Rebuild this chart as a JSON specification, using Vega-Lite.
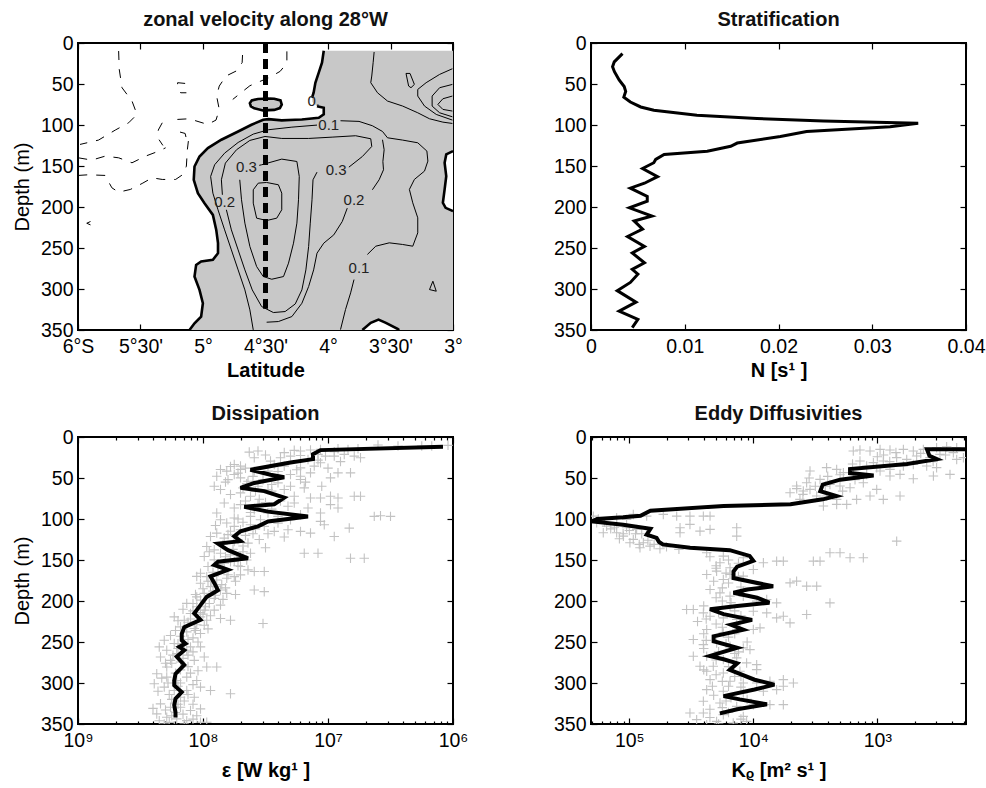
{
"$schema":"https://vega.github.io/schema/vega-lite/v6.json",
"background":"white",
"padding":{"left":11,"top":9,"right":0,"bottom":0},
"config":{
 "font":"Liberation Sans",
 "view":{"stroke":"#000","strokeWidth":2},
 "axis":{"domain":false,"grid":false,"tickColor":"#000","tickSize":-6,"tickWidth":1.2,"labelFontSize":19.5,"labelColor":"#000","labelFont":"Liberation Sans","titleFont":"Liberation Sans","titleFontSize":20,"titleColor":"#000","labelPadding":13,"labelFlush":false,"labelOverlap":false},
 "title":{"font":"Liberation Sans","fontSize":20,"fontWeight":"bold","color":"#111","offset":3}
},
"datasets":{
 "grey":[{"d":9.4,"lat":4.034},{"d":24,"lat":4.048},{"d":36.2,"lat":4.074},{"d":48.5,"lat":4.101},{"d":60.7,"lat":4.115},{"d":66.8,"lat":4.128},{"d":72,"lat":4.125},{"d":77,"lat":4.088},{"d":79,"lat":4.034},{"d":87,"lat":4.034},{"d":91.2,"lat":4.074},{"d":92.5,"lat":4.209},{"d":93.0,"lat":4.37},{"d":93.6,"lat":4.518},{"d":99.7,"lat":4.612},{"d":107.9,"lat":4.719},{"d":118,"lat":4.853},{"d":128.2,"lat":4.961},{"d":138.4,"lat":5.028},{"d":150.6,"lat":5.068},{"d":166.8,"lat":5.074},{"d":183.1,"lat":5.041},{"d":195.3,"lat":4.988},{"d":209.6,"lat":4.921},{"d":227.9,"lat":4.894},{"d":244.1,"lat":4.88},{"d":256.3,"lat":4.88},{"d":264.5,"lat":4.921},{"d":266.5,"lat":5.015},{"d":270.6,"lat":5.055},{"d":284.8,"lat":5.068},{"d":301.1,"lat":5.028},{"d":317.4,"lat":5.001},{"d":333.6,"lat":5.015},{"d":341.8,"lat":5.068},{"d":350,"lat":5.108}],
 "patch":[
  {"p":"ell","d":67.8,"lo":4.53,"hi":4.43},{"p":"ell","d":69.2,"lo":4.6,"hi":4.4},{"p":"ell","d":73.3,"lo":4.625,"hi":4.37},{"p":"ell","d":77.3,"lo":4.617,"hi":4.37},{"p":"ell","d":79.4,"lo":4.59,"hi":4.39},{"p":"ell","d":81.4,"lo":4.57,"hi":4.43},{"p":"ell","d":82.2,"lo":4.52,"hi":4.47},
  {"p":"hr","d":131.8,"lo":3.005,"hi":3.0},{"p":"hr","d":135.9,"lo":3.054,"hi":3.0},{"p":"hr","d":146.1,"lo":3.067,"hi":3.0},{"p":"hr","d":162.4,"lo":3.054,"hi":3.0},{"p":"hr","d":178.6,"lo":3.067,"hi":3.0},{"p":"hr","d":194.9,"lo":3.081,"hi":3.0},{"p":"hr","d":201.0,"lo":3.059,"hi":3.0},{"p":"hr","d":205.1,"lo":3.005,"hi":3.0},
  {"p":"hb","d":337.3,"lo":3.6,"hi":3.59},{"p":"hb","d":341.3,"lo":3.658,"hi":3.537},{"p":"hb","d":348.7,"lo":3.71,"hi":3.443},{"p":"hb","d":350,"lo":3.725,"hi":3.43}],
 "cont":[
  {"id":"b0a","t":"thick","lat":4.034,"d":9.4},{"id":"b0a","t":"thick","lat":4.048,"d":24},{"id":"b0a","t":"thick","lat":4.074,"d":36.2},{"id":"b0a","t":"thick","lat":4.101,"d":48.5},{"id":"b0a","t":"thick","lat":4.115,"d":60.7},{"id":"b0a","t":"thick","lat":4.128,"d":66.8},
  {"id":"b0b","t":"thick","lat":4.088,"d":77},{"id":"b0b","t":"thick","lat":4.034,"d":79},{"id":"b0b","t":"thick","lat":4.034,"d":87},{"id":"b0b","t":"thick","lat":4.074,"d":91.2},{"id":"b0b","t":"thick","lat":4.209,"d":93.2},{"id":"b0b","t":"thick","lat":4.262,"d":93.6},{"id":"b0b","t":"thick","lat":4.37,"d":94.4},{"id":"b0b","t":"thick","lat":4.477,"d":92.8},{"id":"b0b","t":"thick","lat":4.518,"d":93.6},{"id":"b0b","t":"thick","lat":4.612,"d":99.7},{"id":"b0b","t":"thick","lat":4.719,"d":107.9},{"id":"b0b","t":"thick","lat":4.853,"d":118},{"id":"b0b","t":"thick","lat":4.961,"d":128.2},{"id":"b0b","t":"thick","lat":5.028,"d":138.4},{"id":"b0b","t":"thick","lat":5.068,"d":150.6},{"id":"b0b","t":"thick","lat":5.074,"d":166.8},{"id":"b0b","t":"thick","lat":5.041,"d":183.1},{"id":"b0b","t":"thick","lat":4.988,"d":195.3},{"id":"b0b","t":"thick","lat":4.921,"d":209.6},{"id":"b0b","t":"thick","lat":4.894,"d":227.9},{"id":"b0b","t":"thick","lat":4.88,"d":244.1},{"id":"b0b","t":"thick","lat":4.88,"d":256.3},{"id":"b0b","t":"thick","lat":4.921,"d":264.5},{"id":"b0b","t":"thick","lat":5.015,"d":266.5},{"id":"b0b","t":"thick","lat":5.055,"d":270.6},{"id":"b0b","t":"thick","lat":5.068,"d":284.8},{"id":"b0b","t":"thick","lat":5.028,"d":301.1},{"id":"b0b","t":"thick","lat":5.001,"d":317.4},{"id":"b0b","t":"thick","lat":5.015,"d":333.6},{"id":"b0b","t":"thick","lat":5.068,"d":341.8},{"id":"b0b","t":"thick","lat":5.108,"d":350},
  {"id":"be","t":"thick","lat":4.47,"d":67.6},{"id":"be","t":"thick","lat":4.56,"d":68.2},{"id":"be","t":"thick","lat":4.61,"d":70},{"id":"be","t":"thick","lat":4.625,"d":73.3},{"id":"be","t":"thick","lat":4.617,"d":77.3},{"id":"be","t":"thick","lat":4.59,"d":79.6},{"id":"be","t":"thick","lat":4.52,"d":82.2},{"id":"be","t":"thick","lat":4.43,"d":81.6},{"id":"be","t":"thick","lat":4.385,"d":79.4},{"id":"be","t":"thick","lat":4.37,"d":75},{"id":"be","t":"thick","lat":4.38,"d":70},{"id":"be","t":"thick","lat":4.43,"d":68},{"id":"be","t":"thick","lat":4.47,"d":67.6},
  {"id":"bh","t":"thick","lat":3.0,"d":131.8},{"id":"bh","t":"thick","lat":3.054,"d":135.9},{"id":"bh","t":"thick","lat":3.067,"d":146.1},{"id":"bh","t":"thick","lat":3.054,"d":162.4},{"id":"bh","t":"thick","lat":3.067,"d":178.6},{"id":"bh","t":"thick","lat":3.081,"d":194.9},{"id":"bh","t":"thick","lat":3.059,"d":201.0},{"id":"bh","t":"thick","lat":3.0,"d":205.1},
  {"id":"bb","t":"thick","lat":3.725,"d":350},{"id":"bb","t":"thick","lat":3.658,"d":341.3},{"id":"bb","t":"thick","lat":3.596,"d":337.3},{"id":"bb","t":"thick","lat":3.537,"d":341.3},{"id":"bb","t":"thick","lat":3.443,"d":348.7},{"id":"bb","t":"thick","lat":3.43,"d":350},
  {"id":"a1","t":"thin","lat":4.598,"d":349.9},{"id":"a1","t":"thin","lat":4.625,"d":325.5},{"id":"a1","t":"thin","lat":4.665,"d":301.1},{"id":"a1","t":"thin","lat":4.719,"d":276.7},{"id":"a1","t":"thin","lat":4.773,"d":252.3},{"id":"a1","t":"thin","lat":4.827,"d":227.9},{"id":"a1","t":"thin","lat":4.88,"d":203.4},{"id":"a1","t":"thin","lat":4.921,"d":183.1},{"id":"a1","t":"thin","lat":4.939,"d":162.8},{"id":"a1","t":"thin","lat":4.907,"d":148.5},{"id":"a1","t":"thin","lat":4.827,"d":134.3},{"id":"a1","t":"thin","lat":4.719,"d":121.3},{"id":"a1","t":"thin","lat":4.598,"d":111.1},{"id":"a1","t":"thin","lat":4.477,"d":105.8},{"id":"a1","t":"thin","lat":4.289,"d":102.6},{"id":"a1","t":"thin","lat":4.088,"d":100.1},
  {"id":"a2","t":"thin","lat":3.9,"d":94.8},{"id":"a2","t":"thin","lat":3.752,"d":95.6},{"id":"a2","t":"thin","lat":3.645,"d":100.9},{"id":"a2","t":"thin","lat":3.564,"d":107.9},{"id":"a2","t":"thin","lat":3.524,"d":115.6},{"id":"a2","t":"thin","lat":3.403,"d":118.4},{"id":"a2","t":"thin","lat":3.282,"d":121.7},{"id":"a2","t":"thin","lat":3.209,"d":131.8},{"id":"a2","t":"thin","lat":3.201,"d":144},{"id":"a2","t":"thin","lat":3.228,"d":156.2},{"id":"a2","t":"thin","lat":3.309,"d":166.4},{"id":"a2","t":"thin","lat":3.349,"d":178.6},{"id":"a2","t":"thin","lat":3.322,"d":194.9},{"id":"a2","t":"thin","lat":3.282,"d":213.2},{"id":"a2","t":"thin","lat":3.282,"d":231.5},{"id":"a2","t":"thin","lat":3.322,"d":247.8},{"id":"a2","t":"thin","lat":3.403,"d":245.7},{"id":"a2","t":"thin","lat":3.51,"d":243.7},{"id":"a2","t":"thin","lat":3.618,"d":247.8},{"id":"a2","t":"thin","lat":3.685,"d":257.9},
  {"id":"a3","t":"thin","lat":3.792,"d":288.5},{"id":"a3","t":"thin","lat":3.819,"d":304.7},{"id":"a3","t":"thin","lat":3.86,"d":325.1},{"id":"a3","t":"thin","lat":3.9,"d":349.5},
  {"id":"c2a","t":"thin","lat":4.813,"d":203.4},{"id":"c2a","t":"thin","lat":4.773,"d":227.9},{"id":"c2a","t":"thin","lat":4.719,"d":252.3},{"id":"c2a","t":"thin","lat":4.665,"d":276.7},{"id":"c2a","t":"thin","lat":4.606,"d":301.1},{"id":"c2a","t":"thin","lat":4.531,"d":321.4},{"id":"c2a","t":"thin","lat":4.437,"d":328.7},{"id":"c2a","t":"thin","lat":4.343,"d":327.5},{"id":"c2a","t":"thin","lat":4.262,"d":318.2},{"id":"c2a","t":"thin","lat":4.209,"d":301.1},{"id":"c2a","t":"thin","lat":4.177,"d":276.7},{"id":"c2a","t":"thin","lat":4.155,"d":248.2},{"id":"c2a","t":"thin","lat":4.142,"d":219.7},{"id":"c2a","t":"thin","lat":4.128,"d":191.2},{"id":"c2a","t":"thin","lat":4.12,"d":166.8},{"id":"c2a","t":"thin","lat":4.088,"d":157.5},
  {"id":"c2b","t":"thin","lat":3.833,"d":151.4},{"id":"c2b","t":"thin","lat":3.725,"d":138.4},{"id":"c2b","t":"thin","lat":3.65,"d":126.2},{"id":"c2b","t":"thin","lat":3.658,"d":116.8},{"id":"c2b","t":"thin","lat":3.779,"d":113.1},{"id":"c2b","t":"thin","lat":3.967,"d":114.8},{"id":"c2b","t":"thin","lat":4.155,"d":116.4},{"id":"c2b","t":"thin","lat":4.37,"d":116.4},{"id":"c2b","t":"thin","lat":4.504,"d":114},{"id":"c2b","t":"thin","lat":4.625,"d":118.8},{"id":"c2b","t":"thin","lat":4.732,"d":130.2},{"id":"c2b","t":"thin","lat":4.821,"d":146.5},{"id":"c2b","t":"thin","lat":4.853,"d":166.8},{"id":"c2b","t":"thin","lat":4.845,"d":185.1},
  {"id":"c3a","t":"thin","lat":3.564,"d":118},{"id":"c3a","t":"thin","lat":3.551,"d":130.2},{"id":"c3a","t":"thin","lat":3.561,"d":144.5},{"id":"c3a","t":"thin","lat":3.556,"d":154.6},{"id":"c3a","t":"thin","lat":3.591,"d":166.8},{"id":"c3a","t":"thin","lat":3.645,"d":179},
  {"id":"c3b","t":"thin","lat":3.846,"d":201.4},{"id":"c3b","t":"thin","lat":3.886,"d":217.7},{"id":"c3b","t":"thin","lat":3.954,"d":234},{"id":"c3b","t":"thin","lat":4.034,"d":244.1},{"id":"c3b","t":"thin","lat":4.088,"d":256.3},{"id":"c3b","t":"thin","lat":4.115,"d":276.7},{"id":"c3b","t":"thin","lat":4.155,"d":297},{"id":"c3b","t":"thin","lat":4.209,"d":317.4},{"id":"c3b","t":"thin","lat":4.289,"d":333.6},{"id":"c3b","t":"thin","lat":4.397,"d":339.7},{"id":"c3b","t":"thin","lat":4.491,"d":340.5},
  {"id":"c4","t":"thin","lat":4.55,"d":149.2},{"id":"c4","t":"thin","lat":4.531,"d":148.5},{"id":"c4","t":"thin","lat":4.37,"d":141.6},{"id":"c4","t":"thin","lat":4.249,"d":144.5},{"id":"c4","t":"thin","lat":4.23,"d":162.8},{"id":"c4","t":"thin","lat":4.236,"d":191.2},{"id":"c4","t":"thin","lat":4.249,"d":219.7},{"id":"c4","t":"thin","lat":4.276,"d":244.1},{"id":"c4","t":"thin","lat":4.316,"d":268.5},{"id":"c4","t":"thin","lat":4.356,"d":284.8},{"id":"c4","t":"thin","lat":4.45,"d":288.1},{"id":"c4","t":"thin","lat":4.518,"d":284.8},{"id":"c4","t":"thin","lat":4.571,"d":272.6},{"id":"c4","t":"thin","lat":4.625,"d":248.2},{"id":"c4","t":"thin","lat":4.665,"d":219.7},{"id":"c4","t":"thin","lat":4.692,"d":191.2},{"id":"c4","t":"thin","lat":4.706,"d":166.8},
  {"id":"c5","t":"thin","lat":4.491,"d":170.1},{"id":"c5","t":"thin","lat":4.397,"d":172.9},{"id":"c5","t":"thin","lat":4.37,"d":183.1},{"id":"c5","t":"thin","lat":4.37,"d":203.4},{"id":"c5","t":"thin","lat":4.41,"d":213.6},{"id":"c5","t":"thin","lat":4.491,"d":216.5},{"id":"c5","t":"thin","lat":4.571,"d":213.6},{"id":"c5","t":"thin","lat":4.598,"d":195.3},{"id":"c5","t":"thin","lat":4.598,"d":179},{"id":"c5","t":"thin","lat":4.558,"d":170.9},{"id":"c5","t":"thin","lat":4.491,"d":170.1},
  {"id":"r1","t":"thin","lat":3.631,"d":11},{"id":"r1","t":"thin","lat":3.639,"d":24},{"id":"r1","t":"thin","lat":3.65,"d":40.3},{"id":"r1","t":"thin","lat":3.658,"d":48.4},{"id":"r1","t":"thin","lat":3.604,"d":60.7},{"id":"r1","t":"thin","lat":3.524,"d":70.8},{"id":"r1","t":"thin","lat":3.403,"d":76.9},{"id":"r1","t":"thin","lat":3.282,"d":85.1},{"id":"r1","t":"thin","lat":3.188,"d":92.4},{"id":"r1","t":"thin","lat":3.081,"d":96.5},{"id":"r1","t":"thin","lat":3.005,"d":98.1},
  {"id":"r2","t":"thin","lat":3.005,"d":31.4},{"id":"r2","t":"thin","lat":3.107,"d":38.3},{"id":"r2","t":"thin","lat":3.215,"d":48.4},{"id":"r2","t":"thin","lat":3.282,"d":56.6},{"id":"r2","t":"thin","lat":3.282,"d":64.7},{"id":"r2","t":"thin","lat":3.228,"d":76.9},{"id":"r2","t":"thin","lat":3.134,"d":87.1},{"id":"r2","t":"thin","lat":3.005,"d":94},
  {"id":"r3","t":"thin","lat":3.005,"d":50.5},{"id":"r3","t":"thin","lat":3.107,"d":54.5},{"id":"r3","t":"thin","lat":3.167,"d":64.7},{"id":"r3","t":"thin","lat":3.167,"d":76.9},{"id":"r3","t":"thin","lat":3.107,"d":85.1},{"id":"r3","t":"thin","lat":3.005,"d":90},
  {"id":"r4","t":"thin","lat":3.005,"d":64.7},{"id":"r4","t":"thin","lat":3.081,"d":68},{"id":"r4","t":"thin","lat":3.121,"d":74.9},{"id":"r4","t":"thin","lat":3.081,"d":81},{"id":"r4","t":"thin","lat":3.005,"d":83},
  {"id":"dm","t":"thin","lat":3.376,"d":37.1},{"id":"dm","t":"thin","lat":3.344,"d":37.1},{"id":"dm","t":"thin","lat":3.309,"d":50.5},{"id":"dm","t":"thin","lat":3.336,"d":54.5},{"id":"dm","t":"thin","lat":3.355,"d":52.5},{"id":"dm","t":"thin","lat":3.376,"d":37.1},
  {"id":"tr","t":"thin","lat":3.161,"d":290.5},{"id":"tr","t":"thin","lat":3.134,"d":302.7},{"id":"tr","t":"thin","lat":3.188,"d":300.7},{"id":"tr","t":"thin","lat":3.161,"d":290.5},
  {"id":"lt","t":"thin","lat":5.9,"d":217.7},{"id":"lt","t":"thin","lat":5.93,"d":219.8},{"id":"lt","t":"thin","lat":5.9,"d":221.8},
  {"id":"n1","t":"dash","lat":5.675,"d":9.8},{"id":"n1","t":"dash","lat":5.67,"d":32.2},{"id":"n1","t":"dash","lat":5.648,"d":54.5},{"id":"n1","t":"dash","lat":5.568,"d":70.8},{"id":"n1","t":"dash","lat":5.528,"d":87.1},{"id":"n1","t":"dash","lat":5.595,"d":97.3},{"id":"n1","t":"dash","lat":5.702,"d":106.2},{"id":"n1","t":"dash","lat":5.836,"d":118.4},{"id":"n1","t":"dash","lat":5.984,"d":123.7},
  {"id":"n2","t":"dash","lat":5.998,"d":140},{"id":"n2","t":"dash","lat":5.89,"d":142.8},{"id":"n2","t":"dash","lat":5.783,"d":138},{"id":"n2","t":"dash","lat":5.675,"d":140},{"id":"n2","t":"dash","lat":5.568,"d":146.1},{"id":"n2","t":"dash","lat":5.46,"d":138},{"id":"n2","t":"dash","lat":5.353,"d":131.8},{"id":"n2","t":"dash","lat":5.299,"d":127.8},
  {"id":"n3","t":"dash","lat":5.998,"d":161.5},{"id":"n3","t":"dash","lat":5.917,"d":160.7},{"id":"n3","t":"dash","lat":5.783,"d":161.5},{"id":"n3","t":"dash","lat":5.729,"d":176.6},{"id":"n3","t":"dash","lat":5.675,"d":181.9},{"id":"n3","t":"dash","lat":5.581,"d":178.6},{"id":"n3","t":"dash","lat":5.487,"d":171.3},{"id":"n3","t":"dash","lat":5.407,"d":164.4},{"id":"n3","t":"dash","lat":5.326,"d":166.4},{"id":"n3","t":"dash","lat":5.219,"d":166.4},{"id":"n3","t":"dash","lat":5.16,"d":160.3},{"id":"n3","t":"dash","lat":5.133,"d":150.2},{"id":"n3","t":"dash","lat":5.125,"d":129.8},{"id":"n3","t":"dash","lat":5.117,"d":119.6},
  {"id":"n4","t":"dash","lat":5.326,"d":97.3},{"id":"n4","t":"dash","lat":5.358,"d":106.2},{"id":"n4","t":"dash","lat":5.353,"d":117.6},{"id":"n4","t":"dash","lat":5.321,"d":124.9},
  {"id":"n5","t":"dash","lat":5.205,"d":93.2},{"id":"n5","t":"dash","lat":5.111,"d":92.4},{"id":"n5","t":"dash","lat":4.963,"d":99.3},{"id":"n5","t":"dash","lat":4.896,"d":94},{"id":"n5","t":"dash","lat":4.87,"d":81},{"id":"n5","t":"dash","lat":4.891,"d":64.7},{"id":"n5","t":"dash","lat":4.87,"d":52.5},{"id":"n5","t":"dash","lat":4.816,"d":40.3},{"id":"n5","t":"dash","lat":4.735,"d":34.2},{"id":"n5","t":"dash","lat":4.687,"d":24},{"id":"n5","t":"dash","lat":4.682,"d":9.8},
  {"id":"n6","t":"dash","lat":4.329,"d":10.2},{"id":"n6","t":"dash","lat":4.329,"d":24.4},{"id":"n6","t":"dash","lat":4.383,"d":34.6},{"id":"n6","t":"dash","lat":4.477,"d":42.7},{"id":"n6","t":"dash","lat":4.544,"d":46.8},{"id":"n6","t":"dash","lat":4.625,"d":52.1},{"id":"n6","t":"dash","lat":4.692,"d":60.2},{"id":"n6","t":"dash","lat":4.762,"d":68.8},
  {"id":"n7","t":"dash","lat":5.143,"d":49.3},{"id":"n7","t":"dash","lat":5.203,"d":48.4},{"id":"n7","t":"dash","lat":5.205,"d":56.6},{"id":"n7","t":"dash","lat":5.178,"d":60.7},{"id":"n7","t":"dash","lat":5.133,"d":60.7},
  {"id":"n8","t":"dash","lat":5.184,"d":108.6},{"id":"n8","t":"dash","lat":5.143,"d":110.3},{"id":"n8","t":"dash","lat":5.133,"d":116.8}],
 "labels":[{"t":"0.","lat":4.115,"d":71},{"t":"0.1","lat":3.994,"d":99.7},{"t":"0.3","lat":4.652,"d":151.4},{"t":"0.3","lat":3.935,"d":154.6},{"t":"0.2","lat":4.827,"d":193.3},{"t":"0.2","lat":3.792,"d":191.2},{"t":"0.1","lat":3.752,"d":274.2}],
 "center":[{"lat":4.5,"d0":0,"d1":324}],
 "strat":[{"N":0.00336,"d":13},{"N":0.00248,"d":23},{"N":0.0023,"d":29},{"N":0.0025,"d":35},{"N":0.003,"d":45},{"N":0.00354,"d":53},{"N":0.0037,"d":59},{"N":0.0035,"d":66},{"N":0.0042,"d":72},{"N":0.0053,"d":78},{"N":0.0067,"d":82},{"N":0.0113,"d":88},{"N":0.0177,"d":92},{"N":0.0248,"d":95},{"N":0.0349,"d":98},{"N":0.0319,"d":102},{"N":0.023,"d":108},{"N":0.0202,"d":114},{"N":0.0156,"d":122},{"N":0.0149,"d":126},{"N":0.0124,"d":132},{"N":0.0078,"d":136},{"N":0.0069,"d":142},{"N":0.0067,"d":146},{"N":0.0055,"d":153},{"N":0.0071,"d":163},{"N":0.0057,"d":171},{"N":0.0042,"d":177},{"N":0.006,"d":187},{"N":0.006,"d":193},{"N":0.0041,"d":201},{"N":0.0065,"d":211},{"N":0.0046,"d":217},{"N":0.0055,"d":227},{"N":0.0039,"d":236},{"N":0.0057,"d":248},{"N":0.0044,"d":256},{"N":0.0057,"d":268},{"N":0.0044,"d":276},{"N":0.005,"d":282},{"N":0.0042,"d":292},{"N":0.0028,"d":302},{"N":0.0048,"d":316},{"N":0.003,"d":327},{"N":0.005,"d":337},{"N":0.0044,"d":347}],
 "dline":[{"e":-6.08,"d":11.8},{"e":-7.06,"d":16},{"e":-7.12,"d":21},{"e":-7.12,"d":27},{"e":-7.3,"d":31},{"e":-7.62,"d":40},{"e":-7.46,"d":46},{"e":-7.35,"d":49},{"e":-7.59,"d":56},{"e":-7.7,"d":62},{"e":-7.51,"d":66},{"e":-7.35,"d":74},{"e":-7.43,"d":82},{"e":-7.67,"d":85},{"e":-7.48,"d":91},{"e":-7.16,"d":97},{"e":-7.48,"d":103},{"e":-7.56,"d":109},{"e":-7.7,"d":115},{"e":-7.75,"d":121},{"e":-7.7,"d":127},{"e":-7.88,"d":130},{"e":-7.8,"d":138},{"e":-7.64,"d":148},{"e":-7.88,"d":152},{"e":-7.91,"d":156},{"e":-7.8,"d":162},{"e":-7.94,"d":170},{"e":-7.91,"d":178},{"e":-7.88,"d":187},{"e":-7.97,"d":195},{"e":-8.02,"d":205},{"e":-8.07,"d":215},{"e":-8.02,"d":223},{"e":-8.15,"d":232},{"e":-8.17,"d":240},{"e":-8.17,"d":248},{"e":-8.14,"d":252},{"e":-8.19,"d":256},{"e":-8.15,"d":260},{"e":-8.21,"d":268},{"e":-8.15,"d":278},{"e":-8.22,"d":289},{"e":-8.23,"d":297},{"e":-8.23,"d":303},{"e":-8.17,"d":311},{"e":-8.22,"d":319},{"e":-8.23,"d":327},{"e":-8.22,"d":336},{"e":-8.22,"d":342}],
 "dpts":[{"e":-6.6,"d":9.8},{"e":-6.44,"d":11},{"e":-6.25,"d":11},{"e":-6.17,"d":11},{"e":-6.04,"d":10.2},{"e":-6.92,"d":14.3},{"e":-6.84,"d":15.1},{"e":-6.76,"d":14.3},{"e":-7.27,"d":16.3},{"e":-7.22,"d":17.1},{"e":-7.14,"d":15.9},{"e":-7.06,"d":15.1},{"e":-7.56,"d":17.1},{"e":-7.63,"d":18.4},{"e":-7.3,"d":23.3},{"e":-7.22,"d":22.5},{"e":-7.08,"d":21.2},{"e":-7.02,"d":23.3},{"e":-6.95,"d":23.3},{"e":-6.87,"d":21.2},{"e":-6.79,"d":23.3},{"e":-6.74,"d":25.3},{"e":-7.16,"d":27.4},{"e":-7.08,"d":28.2},{"e":-7.06,"d":31.4},{"e":-7.38,"d":25.3},{"e":-7.46,"d":29.4},{"e":-7.59,"d":25.3},{"e":-7.75,"d":33.5},{"e":-7.7,"d":35.5},{"e":-7.86,"d":39.6},{"e":-7.81,"d":41.6},{"e":-7.7,"d":39.6},{"e":-7.43,"d":33.5},{"e":-7.35,"d":35.5},{"e":-7.22,"d":37.6},{"e":-7.11,"d":35.5},{"e":-7.48,"d":41.6},{"e":-7.59,"d":41.6},{"e":-7.3,"d":45.7},{"e":-7.22,"d":47.8},{"e":-7.14,"d":43.7},{"e":-6.92,"d":43.7},{"e":-6.98,"d":49.8},{"e":-6.82,"d":43.7},{"e":-7.89,"d":47.8},{"e":-7.75,"d":45.7},{"e":-7.7,"d":49.8},{"e":-7.64,"d":53.9},{"e":-7.56,"d":60},{"e":-7.48,"d":64.1},{"e":-7.4,"d":55.9},{"e":-7.35,"d":64.1},{"e":-7.3,"d":60},{"e":-7.22,"d":51.9},{"e":-7.19,"d":62.1},{"e":-7.91,"d":60},{"e":-7.86,"d":64.1},{"e":-7.78,"d":70.2},{"e":-7.7,"d":68.2},{"e":-7.62,"d":72.3},{"e":-7.27,"d":72.3},{"e":-7.14,"d":74.3},{"e":-7.06,"d":74.3},{"e":-6.98,"d":72.3},{"e":-6.92,"d":74.3},{"e":-6.79,"d":72.3},{"e":-6.74,"d":72.3},{"e":-7.83,"d":80.4},{"e":-7.75,"d":86.6},{"e":-7.89,"d":92.7},{"e":-7.7,"d":82.5},{"e":-7.59,"d":88.6},{"e":-7.48,"d":92.7},{"e":-7.4,"d":96.8},{"e":-7.32,"d":84.5},{"e":-7.27,"d":80.4},{"e":-7.16,"d":86.6},{"e":-7.06,"d":92.7},{"e":-6.98,"d":82.5},{"e":-6.92,"d":86.6},{"e":-6.63,"d":96.8},{"e":-6.58,"d":96},{"e":-6.5,"d":96.8},{"e":-7.06,"d":102.9},{"e":-7.22,"d":94.7},{"e":-7.3,"d":100.9},{"e":-7.54,"d":100.9},{"e":-7.62,"d":96.8},{"e":-7.75,"d":98.8},{"e":-7.86,"d":100.9},{"e":-7.81,"d":104.9},{"e":-7.75,"d":109},{"e":-7.7,"d":113.1},{"e":-7.62,"d":107},{"e":-7.51,"d":109},{"e":-7.43,"d":115.1},{"e":-7.32,"d":113.1},{"e":-7.22,"d":115.1},{"e":-7.14,"d":117.2},{"e":-7.03,"d":107},{"e":-6.83,"d":111.1},{"e":-6.95,"d":121.3},{"e":-7.89,"d":117.2},{"e":-7.83,"d":123.3},{"e":-7.75,"d":127.4},{"e":-7.64,"d":129.4},{"e":-7.94,"d":121.3},{"e":-7.97,"d":133.5},{"e":-7.91,"d":137.6},{"e":-7.86,"d":141.7},{"e":-7.78,"d":143.7},{"e":-7.7,"d":145.8},{"e":-7.62,"d":141.7},{"e":-7.91,"d":149.9},{"e":-7.99,"d":145.8},{"e":-7.83,"d":153.9},{"e":-7.75,"d":151.9},{"e":-7.64,"d":162.1},{"e":-7.59,"d":164.1},{"e":-7.51,"d":164.1},{"e":-7.19,"d":141.7},{"e":-7.08,"d":141.7},{"e":-6.82,"d":147.8},{"e":-6.71,"d":147.8},{"e":-8.02,"d":166.2},{"e":-7.97,"d":170.3},{"e":-7.89,"d":174.4},{"e":-7.81,"d":172.3},{"e":-7.75,"d":170.3},{"e":-7.7,"d":168.2},{"e":-8.02,"d":178.4},{"e":-7.94,"d":182.5},{"e":-7.86,"d":186.6},{"e":-7.81,"d":190.7},{"e":-7.99,"d":190.7},{"e":-7.59,"d":186.6},{"e":-7.51,"d":188.6},{"e":-7.91,"d":196.8},{"e":-8.02,"d":198.9},{"e":-8.13,"d":202.9},{"e":-8.05,"d":207},{"e":-7.99,"d":211.1},{"e":-7.91,"d":211.1},{"e":-8.1,"d":215.2},{"e":-8.02,"d":219.3},{"e":-8.23,"d":219.3},{"e":-8.15,"d":223.4},{"e":-7.97,"d":223.4},{"e":-7.86,"d":221.3},{"e":-7.78,"d":223.4},{"e":-8.18,"d":231.5},{"e":-8.07,"d":233.6},{"e":-7.99,"d":229.5},{"e":-7.52,"d":227.4},{"e":-8.13,"d":237.7},{"e":-8.02,"d":239.7},{"e":-8.31,"d":247.9},{"e":-8.23,"d":251.9},{"e":-8.15,"d":251.9},{"e":-8.1,"d":256},{"e":-8.29,"d":260.1},{"e":-8.21,"d":264.2},{"e":-8.13,"d":260.1},{"e":-8.02,"d":256},{"e":-8.34,"d":268.3},{"e":-8.26,"d":272.4},{"e":-8.18,"d":274.4},{"e":-8.07,"d":272.4},{"e":-7.99,"d":268.3},{"e":-7.89,"d":280.5},{"e":-7.97,"d":280.5},{"e":-8.29,"d":280.5},{"e":-8.37,"d":288.7},{"e":-8.29,"d":292.8},{"e":-8.21,"d":296.9},{"e":-8.13,"d":292.8},{"e":-8.05,"d":296.9},{"e":-8.39,"d":300.9},{"e":-8.31,"d":305},{"e":-8.23,"d":309.1},{"e":-8.13,"d":309.1},{"e":-8.02,"d":305},{"e":-7.94,"d":309.1},{"e":-7.78,"d":313.2},{"e":-8.18,"d":317.3},{"e":-8.07,"d":317.3},{"e":-8.34,"d":325.4},{"e":-8.26,"d":329.5},{"e":-8.18,"d":329.5},{"e":-8.1,"d":333.6},{"e":-8.02,"d":331.6},{"e":-8.37,"d":337.7},{"e":-8.29,"d":341.8},{"e":-8.21,"d":343.8},{"e":-8.13,"d":345.9},{"e":-8.02,"d":347.9},{"e":-8.31,"d":350},{"e":-8.23,"d":352},{"e":-8.15,"d":350},{"e":-7.97,"d":347.9},{"e":-7.95,"d":140},{"e":-7.88,"d":156},{"e":-7.84,"d":160},{"e":-7.92,"d":165},{"e":-8.05,"d":170},{"e":-7.93,"d":176},{"e":-7.85,"d":180},{"e":-8.0,"d":185},{"e":-7.9,"d":193},{"e":-8.05,"d":195},{"e":-7.95,"d":203},{"e":-8.08,"d":212},{"e":-8.0,"d":216},{"e":-8.12,"d":226},{"e":-8.05,"d":229},{"e":-8.18,"d":243},{"e":-8.08,"d":245},{"e":-8.2,"d":258},{"e":-8.12,"d":266},{"e":-8.25,"d":276},{"e":-8.18,"d":284},{"e":-8.1,"d":288},{"e":-8.28,"d":300},{"e":-8.2,"d":304},{"e":-8.25,"d":320},{"e":-8.15,"d":322},{"e":-8.3,"d":333},{"e":-8.22,"d":336},{"e":-8.05,"d":340},{"e":-7.72,"d":125},{"e":-7.68,"d":133},{"e":-7.8,"d":119},{"e":-7.6,"d":118},{"e":-7.55,"d":125},{"e":-7.5,"d":135},{"e":-7.65,"d":150},{"e":-7.72,"d":157},{"e":-7.45,"d":66},{"e":-7.55,"d":76},{"e":-7.38,"d":78},{"e":-7.65,"d":57},{"e":-7.8,"d":52},
  {"e":-7.78,"d":36},{"e":-7.72,"d":44},{"e":-7.66,"d":38},{"e":-7.6,"d":48},{"e":-7.52,"d":52},{"e":-7.45,"d":58},{"e":-7.68,"d":62},{"e":-7.58,"d":66},{"e":-7.82,"d":55},{"e":-7.4,"d":42},{"e":-7.25,"d":40},{"e":-7.18,"d":55},{"e":-7.05,"d":60},{"e":-7.0,"d":38},{"e":-6.9,"d":30},{"e":-6.95,"d":18},{"e":-7.35,"d":19},{"e":-7.5,"d":22},{"e":-7.66,"d":78},{"e":-7.56,"d":82},{"e":-7.5,"d":80},{"e":-7.45,"d":88},{"e":-7.62,"d":92},{"e":-7.68,"d":104},{"e":-7.58,"d":112},{"e":-7.48,"d":118},{"e":-7.4,"d":105},{"e":-7.35,"d":122},{"e":-7.66,"d":120},{"e":-7.78,"d":115},{"e":-7.72,"d":100},{"e":-7.9,"d":108},{"e":-7.84,"d":131},{"e":-7.76,"d":137},{"e":-7.68,"d":140},{"e":-7.82,"d":146},{"e":-7.78,"d":152},{"e":-7.7,"d":158},{"e":-7.96,"d":158},{"e":-7.88,"d":165},{"e":-7.8,"d":168},{"e":-7.74,"d":176},{"e":-7.96,"d":176},{"e":-7.9,"d":182},{"e":-7.82,"d":184},{"e":-7.74,"d":192},{"e":-7.92,"d":188},{"e":-8.06,"d":192},{"e":-7.84,"d":198},{"e":-7.98,"d":207},{"e":-7.86,"d":205},{"e":-8.08,"d":203},{"e":-8.16,"d":210},{"e":-8.02,"d":214},{"e":-7.94,"d":218},{"e":-8.2,"d":224},{"e":-8.1,"d":222},{"e":-8.06,"d":236},{"e":-8.22,"d":236},{"e":-7.96,"d":234},{"e":-8.26,"d":242},{"e":-8.12,"d":247},{"e":-8.04,"d":250},{"e":-8.2,"d":252},{"e":-8.35,"d":256},{"e":-8.08,"d":262},{"e":-8.24,"d":266},{"e":-8.16,"d":270},{"e":-8.3,"d":276},{"e":-8.12,"d":280},{"e":-8.04,"d":285},{"e":-8.22,"d":288},{"e":-8.33,"d":294},{"e":-8.18,"d":300},{"e":-8.08,"d":302},{"e":-8.36,"d":310},{"e":-8.27,"d":314},{"e":-8.12,"d":314},{"e":-8.2,"d":326},{"e":-8.08,"d":326},{"e":-8.4,"d":331},{"e":-8.25,"d":340},{"e":-8.16,"d":338},{"e":-8.35,"d":346},{"e":-8.08,"d":344},{"e":-8.27,"d":348}],
 "kline":[{"k":-2.28,"d":15},{"k":-2.6,"d":15},{"k":-2.58,"d":23},{"k":-2.52,"d":27},{"k":-2.76,"d":33},{"k":-3.22,"d":39},{"k":-3.22,"d":44},{"k":-3.03,"d":47},{"k":-3.3,"d":52},{"k":-3.44,"d":58},{"k":-3.46,"d":66},{"k":-3.33,"d":72},{"k":-3.44,"d":76},{"k":-3.7,"d":82},{"k":-4.24,"d":84},{"k":-4.83,"d":90},{"k":-4.91,"d":96},{"k":-5.05,"d":98},{"k":-5.26,"d":100},{"k":-5.3,"d":103},{"k":-5.05,"d":107},{"k":-4.83,"d":112},{"k":-4.86,"d":119},{"k":-4.78,"d":123},{"k":-4.76,"d":128},{"k":-4.73,"d":131},{"k":-4.51,"d":135},{"k":-4.19,"d":138},{"k":-4.03,"d":145},{"k":-4.0,"d":151},{"k":-4.13,"d":158},{"k":-4.16,"d":164},{"k":-4.16,"d":172},{"k":-3.84,"d":182},{"k":-4.05,"d":186},{"k":-4.16,"d":190},{"k":-3.97,"d":196},{"k":-3.87,"d":202},{"k":-4.13,"d":206},{"k":-4.35,"d":210},{"k":-4.24,"d":216},{"k":-4.01,"d":223},{"k":-4.18,"d":229},{"k":-4.08,"d":235},{"k":-4.32,"d":243},{"k":-4.32,"d":249},{"k":-4.13,"d":257},{"k":-4.35,"d":267},{"k":-4.24,"d":271},{"k":-4.13,"d":276},{"k":-4.19,"d":284},{"k":-3.99,"d":296},{"k":-3.83,"d":302},{"k":-3.99,"d":308},{"k":-4.24,"d":316},{"k":-4.11,"d":320},{"k":-3.89,"d":326},{"k":-4.13,"d":332},{"k":-4.27,"d":337}],
 "kpts":[{"k":-3.194,"d":17.1},{"k":-3.14,"d":15.9},{"k":-3.059,"d":17.1},{"k":-2.978,"d":15.1},{"k":-2.898,"d":15.9},{"k":-2.79,"d":15.1},{"k":-2.71,"d":17.1},{"k":-2.629,"d":15.1},{"k":-2.522,"d":13},{"k":-2.441,"d":11.8},{"k":-2.36,"d":13},{"k":-2.387,"d":19.1},{"k":-2.495,"d":21.2},{"k":-2.575,"d":25.2},{"k":-2.683,"d":23.2},{"k":-2.763,"d":27.3},{"k":-2.844,"d":25.2},{"k":-2.952,"d":29.3},{"k":-3.032,"d":31.3},{"k":-3.14,"d":29.3},{"k":-3.086,"d":35.4},{"k":-3.005,"d":37.4},{"k":-2.898,"d":39.5},{"k":-2.79,"d":35.4},{"k":-2.71,"d":33.4},{"k":-2.602,"d":35.4},{"k":-2.522,"d":37.4},{"k":-2.36,"d":27.3},{"k":-2.306,"d":25.2},{"k":-2.414,"d":45.6},{"k":-2.548,"d":47.6},{"k":-3.543,"d":41.5},{"k":-3.409,"d":37.4},{"k":-3.328,"d":39.5},{"k":-3.274,"d":43.5},{"k":-3.194,"d":43.5},{"k":-3.086,"d":45.6},{"k":-2.978,"d":41.5},{"k":-2.898,"d":47.6},{"k":-2.817,"d":45.6},{"k":-2.71,"d":50.9},{"k":-3.651,"d":59.8},{"k":-3.57,"d":55.8},{"k":-3.462,"d":51.7},{"k":-3.382,"d":57.8},{"k":-3.301,"d":59.8},{"k":-3.704,"d":68},{"k":-3.597,"d":65.9},{"k":-3.489,"d":72},{"k":-3.409,"d":72},{"k":-3.328,"d":76.1},{"k":-3.247,"d":82.2},{"k":-3.167,"d":76.1},{"k":-3.059,"d":72},{"k":-2.952,"d":76.1},{"k":-2.817,"d":72},{"k":-3.22,"d":61.9},{"k":-3.113,"d":55.8},{"k":-3.005,"d":63.9},{"k":-3.624,"d":76.1},{"k":-3.543,"d":63.9},{"k":-4.968,"d":94.4},{"k":-4.86,"d":96.5},{"k":-4.726,"d":94.4},{"k":-4.618,"d":96.5},{"k":-4.511,"d":96.5},{"k":-4.403,"d":96.5},{"k":-4.349,"d":96.5},{"k":-5.102,"d":98.5},{"k":-5.022,"d":100.5},{"k":-3.435,"d":84.2},{"k":-3.328,"d":82.2},{"k":-5.29,"d":96.5},{"k":-5.263,"d":104.6},{"k":-5.183,"d":108.7},{"k":-5.102,"d":106.6},{"k":-5.022,"d":110.7},{"k":-4.941,"d":112.7},{"k":-5.102,"d":116.8},{"k":-5.048,"d":120.9},{"k":-4.968,"d":124.9},{"k":-4.887,"d":129},{"k":-4.833,"d":133.1},{"k":-4.753,"d":136.3},{"k":-4.914,"d":135.1},{"k":-4.995,"d":129},{"k":-5.21,"d":116.8},{"k":-4.591,"d":110.7},{"k":-4.511,"d":106.6},{"k":-4.43,"d":114.8},{"k":-4.591,"d":116.8},{"k":-4.349,"d":112.7},{"k":-4.134,"d":110.7},{"k":-4.134,"d":120.9},{"k":-2.844,"d":127},{"k":-4.376,"d":141.2},{"k":-4.242,"d":145.3},{"k":-4.081,"d":147.3},{"k":-4.269,"d":153.4},{"k":-4.188,"d":159.5},{"k":-4.296,"d":163.6},{"k":-4.188,"d":167.7},{"k":-4.081,"d":169.7},{"k":-4.0,"d":161.6},{"k":-3.919,"d":153.4},{"k":-3.812,"d":151.4},{"k":-3.758,"d":151.4},{"k":-3.516,"d":151.4},{"k":-3.462,"d":151.4},{"k":-3.382,"d":141.2},{"k":-3.301,"d":141.2},{"k":-3.22,"d":147.3},{"k":-3.113,"d":147.3},{"k":-4.376,"d":167.7},{"k":-4.242,"d":173.8},{"k":-4.349,"d":186},{"k":-4.269,"d":190.1},{"k":-4.188,"d":194.1},{"k":-4.081,"d":194.1},{"k":-3.973,"d":200.2},{"k":-3.892,"d":198.2},{"k":-3.812,"d":202.3},{"k":-3.704,"d":177.9},{"k":-3.651,"d":175.8},{"k":-3.57,"d":181.9},{"k":-3.489,"d":181.9},{"k":-3.382,"d":202.3},{"k":-4.538,"d":210.4},{"k":-4.484,"d":210.4},{"k":-4.403,"d":214.5},{"k":-4.349,"d":218.6},{"k":-4.242,"d":220.6},{"k":-4.134,"d":222.6},{"k":-4.0,"d":212.5},{"k":-3.892,"d":214.5},{"k":-3.812,"d":220.6},{"k":-3.758,"d":218.6},{"k":-3.704,"d":226.7},{"k":-3.57,"d":216.5},{"k":-4.188,"d":206.4},{"k":-4.108,"d":226.7},{"k":-4.376,"d":234.8},{"k":-4.242,"d":238.9},{"k":-4.134,"d":234.8},{"k":-4.0,"d":234.8},{"k":-3.946,"d":232.8},{"k":-4.484,"d":247},{"k":-4.403,"d":253.2},{"k":-4.296,"d":251.1},{"k":-4.188,"d":255.2},{"k":-4.081,"d":257.2},{"k":-4.027,"d":259.3},{"k":-4.484,"d":267.4},{"k":-4.376,"d":267.4},{"k":-4.242,"d":271.5},{"k":-4.134,"d":269.4},{"k":-4.054,"d":275.5},{"k":-3.973,"d":277.6},{"k":-4.43,"d":279.6},{"k":-4.323,"d":279.6},{"k":-4.376,"d":285.7},{"k":-4.242,"d":287.8},{"k":-4.108,"d":285.7},{"k":-3.973,"d":283.7},{"k":-4.349,"d":295.9},{"k":-4.188,"d":297.9},{"k":-4.081,"d":300},{"k":-3.973,"d":300},{"k":-3.866,"d":297.9},{"k":-3.758,"d":295.9},{"k":-3.677,"d":300},{"k":-4.376,"d":308.1},{"k":-4.242,"d":310.1},{"k":-4.081,"d":312.2},{"k":-3.919,"d":310.1},{"k":-3.812,"d":308.1},{"k":-3.758,"d":304},{"k":-4.403,"d":322.3},{"k":-4.269,"d":324.4},{"k":-4.134,"d":328.5},{"k":-4.0,"d":326.4},{"k":-3.866,"d":326.4},{"k":-3.758,"d":326.4},{"k":-4.511,"d":336.6},{"k":-4.403,"d":336.6},{"k":-4.242,"d":338.6},{"k":-4.081,"d":340.7},{"k":-4.457,"d":344.7},{"k":-4.296,"d":346.8},{"k":-4.162,"d":348.8},{"k":-4.054,"d":346.8},{"k":-4.376,"d":350.8},{"k":-4.3,"d":160},{"k":-4.2,"d":178},{"k":-4.1,"d":183},{"k":-4.25,"d":200},{"k":-4.15,"d":212},{"k":-4.3,"d":228},{"k":-4.2,"d":244},{"k":-4.28,"d":262},{"k":-4.15,"d":264},{"k":-4.3,"d":290},{"k":-4.2,"d":304},{"k":-4.32,"d":315},{"k":-4.18,"d":318},{"k":-4.25,"d":330},{"k":-4.35,"d":342},{"k":-4.1,"d":292},{"k":-4.05,"d":250},{"k":-4.4,"d":240},{"k":-4.45,"d":225},{"k":-5.15,"d":112},{"k":-5.05,"d":118},{"k":-4.9,"d":118},{"k":-3.6,"d":70},{"k":-3.5,"d":60},{"k":-3.4,"d":48},{"k":-2.95,"d":22},{"k":-2.85,"d":19},
  {"k":-5.25,"d":100},{"k":-5.2,"d":104},{"k":-5.12,"d":110},{"k":-5.0,"d":114},{"k":-4.95,"d":118},{"k":-5.08,"d":124},{"k":-4.85,"d":126},{"k":-4.92,"d":131},{"k":-4.8,"d":131},{"k":-4.7,"d":134},{"k":-4.6,"d":137},{"k":-4.35,"d":146},{"k":-4.2,"d":150},{"k":-4.12,"d":154},{"k":-4.3,"d":157},{"k":-4.22,"d":166},{"k":-4.12,"d":170},{"k":-4.32,"d":176},{"k":-4.25,"d":184},{"k":-4.08,"d":188},{"k":-4.3,"d":196},{"k":-4.18,"d":202},{"k":-4.4,"d":206},{"k":-4.28,"d":214},{"k":-4.1,"d":218},{"k":-4.38,"d":222},{"k":-4.25,"d":232},{"k":-4.15,"d":240},{"k":-4.38,"d":248},{"k":-4.22,"d":252},{"k":-4.12,"d":262},{"k":-4.4,"d":258},{"k":-4.3,"d":272},{"k":-4.2,"d":280},{"k":-4.4,"d":284},{"k":-4.15,"d":292},{"k":-4.25,"d":298},{"k":-4.1,"d":305},{"k":-4.33,"d":304},{"k":-4.22,"d":322},{"k":-4.05,"d":320},{"k":-4.35,"d":332},{"k":-4.2,"d":336},{"k":-4.1,"d":344},{"k":-4.28,"d":350},{"k":-3.0,"d":24},{"k":-2.9,"d":30},{"k":-3.2,"d":33},{"k":-3.3,"d":46},{"k":-3.18,"d":52},{"k":-3.42,"d":60},{"k":-3.28,"d":66},{"k":-3.55,"d":50},{"k":-3.65,"d":63},{"k":-2.65,"d":20},{"k":-2.55,"d":30},{"k":-2.45,"d":22}]
},
"concat":[
  {"width":375,"height":287,"title":"zonal velocity along 28°W",
   "resolve":{"axis":{"x":"independent","y":"independent"}},
   "layer":[
    {"data":{"name":"grey"},"mark":{"type":"area","color":"#c8c8c8","clip":true,"orient":"horizontal"},
     "encoding":{
      "y":{"field":"d","type":"quantitative","scale":{"domain":[0,350],"reverse":true,"nice":false,"zero":false},"axis":{"orient":"left","values":[0,50,100,150,200,250,300,350],"title":"Depth (m)","titleFontWeight":"normal","labelPadding":11,"titlePadding":8}},
      "x":{"field":"lat","type":"quantitative","stack":null,"scale":{"domain":[6,3],"nice":false,"zero":false},"axis":{"orient":"bottom","values":[6,5.5,5,4.5,4,3.5,3],"labelExpr":"datum.value == 6 ? '6°S' : datum.value == 5.5 ? \"5°30'\" : datum.value == 5 ? '5°' : datum.value == 4.5 ? \"4°30'\" : datum.value == 4 ? '4°' : datum.value == 3.5 ? \"3°30'\" : '3°'","title":"Latitude","titlePadding":5}},
      "x2":{"datum":3}}},
    {"data":{"name":"patch"},"mark":{"type":"area","clip":true,"orient":"horizontal"},
     "encoding":{
      "y":{"field":"d","type":"quantitative","axis":{"orient":"right","values":[0,50,100,150,200,250,300,350],"labels":false,"title":null}},
      "x":{"field":"lo","type":"quantitative","stack":null,"axis":{"orient":"top","values":[6,5.5,5,4.5,4,3.5,3],"labels":false,"title":null}},
      "x2":{"field":"hi"},
      "detail":{"field":"p"},
      "color":{"field":"p","type":"nominal","scale":{"domain":["ell","hr","hb"],"range":["#c8c8c8","#ffffff","#ffffff"]},"legend":null}}},
    {"data":{"name":"cont"},"transform":[{"filter":"datum.t == 'thin'"}],"mark":{"type":"line","color":"#000","strokeWidth":1,"clip":true},
     "encoding":{"x":{"field":"lat","type":"quantitative","axis":null},"y":{"field":"d","type":"quantitative","axis":null},"detail":{"field":"id"},"order":{"value":null}}},
    {"data":{"name":"cont"},"transform":[{"filter":"datum.t == 'dash'"}],"mark":{"type":"line","color":"#000","strokeWidth":1,"strokeDash":[9,9],"clip":true},
     "encoding":{"x":{"field":"lat","type":"quantitative","axis":null},"y":{"field":"d","type":"quantitative","axis":null},"detail":{"field":"id"},"order":{"value":null}}},
    {"data":{"name":"cont"},"transform":[{"filter":"datum.t == 'thick'"}],"mark":{"type":"line","color":"#000","strokeWidth":2.6,"clip":true},
     "encoding":{"x":{"field":"lat","type":"quantitative","axis":null},"y":{"field":"d","type":"quantitative","axis":null},"detail":{"field":"id"},"order":{"value":null}}},
    {"data":{"name":"center"},"mark":{"type":"rule","color":"#000","strokeWidth":5,"strokeDash":[10,6]},
     "encoding":{"x":{"field":"lat","type":"quantitative","axis":null},"y":{"field":"d0","type":"quantitative","axis":null},"y2":{"field":"d1"}}},
    {"data":{"name":"labels"},"mark":{"type":"text","fontSize":15,"color":"#222","font":"Liberation Sans"},
     "encoding":{"x":{"field":"lat","type":"quantitative","axis":null},"y":{"field":"d","type":"quantitative","axis":null},"text":{"field":"t"}}}
   ]},
  {"width":375,"height":287,"title":"Stratification",
   "data":{"name":"strat"},
   "resolve":{"axis":{"x":"independent","y":"independent"}},
   "layer":[
    {"mark":{"type":"line","color":"#000","strokeWidth":3,"clip":true},
     "encoding":{
      "x":{"field":"N","type":"quantitative","scale":{"domain":[0,0.04],"nice":false,"zero":false},"axis":{"orient":"bottom","values":[0,0.01,0.02,0.03,0.04],"labelExpr":"datum.value == 0 ? '0' : format(datum.value, '.2f')","title":"N [s¹  ]","titlePadding":5}},
      "y":{"field":"d","type":"quantitative","scale":{"domain":[0,350],"reverse":true,"nice":false,"zero":false},"axis":{"orient":"left","values":[0,50,100,150,200,250,300,350],"title":null,"labelPadding":11}},
      "order":{"field":"d","type":"quantitative"}}},
    {"mark":{"type":"point","opacity":0},
     "encoding":{
      "x":{"field":"N","type":"quantitative","axis":{"orient":"top","values":[0,0.01,0.02,0.03,0.04],"labels":false,"title":null}},
      "y":{"field":"d","type":"quantitative","axis":{"orient":"right","values":[0,50,100,150,200,250,300,350],"labels":false,"title":null}}}}
   ]},
  {"width":375,"height":287,"title":"Dissipation",
   "resolve":{"axis":{"x":"independent","y":"independent"}},
   "layer":[
    {"data":{"name":"dpts"},"mark":{"type":"point","shape":"M-1,0L1,0M0,-1L0,1","filled":false,"color":"#c2c2c2","strokeWidth":1.1,"size":90,"opacity":1,"clip":true},
     "encoding":{
      "x":{"field":"e","type":"quantitative","scale":{"domain":[-9,-6],"nice":false,"zero":false},"axis":{"orient":"bottom","values":[-9,-8,-7,-6],"labelExpr":"datum.value == -9 ? '10⁹' : datum.value == -8 ? '10⁸' : datum.value == -7 ? '10⁷' : '10⁶'","title":"ε [W kg¹  ]","titlePadding":11}},
      "y":{"field":"d","type":"quantitative","scale":{"domain":[0,350],"reverse":true,"nice":false,"zero":false},"axis":{"orient":"left","values":[0,50,100,150,200,250,300,350],"title":"Depth (m)","titleFontWeight":"normal","labelPadding":11,"titlePadding":8}}}},
    {"data":{"name":"dline"},"mark":{"type":"line","color":"#000","strokeWidth":4,"clip":true},
     "encoding":{
      "x":{"field":"e","type":"quantitative","axis":{"orient":"top","values":[-9,-8,-7,-6],"labels":false,"title":null}},
      "y":{"field":"d","type":"quantitative","axis":{"orient":"right","values":[0,50,100,150,200,250,300,350],"labels":false,"title":null}},
      "order":{"field":"d","type":"quantitative"}}},
    {"data":{"name":"dline"},"mark":{"type":"point","opacity":0},
     "encoding":{"x":{"field":"e","type":"quantitative","axis":{"orient":"bottom","values":[-8.699,-8.523,-8.398,-8.301,-8.222,-8.155,-8.097,-8.046,-7.699,-7.523,-7.398,-7.301,-7.222,-7.155,-7.097,-7.046,-6.699,-6.523,-6.398,-6.301,-6.222,-6.155,-6.097,-6.046],"labels":false,"title":null,"tickSize":-3}},"y":{"field":"d","type":"quantitative","axis":null}}},
    {"data":{"name":"dline"},"mark":{"type":"point","opacity":0},
     "encoding":{"x":{"field":"e","type":"quantitative","axis":{"orient":"top","values":[-8.699,-8.523,-8.398,-8.301,-8.222,-8.155,-8.097,-8.046,-7.699,-7.523,-7.398,-7.301,-7.222,-7.155,-7.097,-7.046,-6.699,-6.523,-6.398,-6.301,-6.222,-6.155,-6.097,-6.046],"labels":false,"title":null,"tickSize":-3}},"y":{"field":"d","type":"quantitative","axis":null}}}
   ]},
  {"width":375,"height":287,"title":"Eddy Diffusivities",
   "resolve":{"axis":{"x":"independent","y":"independent"}},
   "layer":[
    {"data":{"name":"kpts"},"mark":{"type":"point","shape":"M-1,0L1,0M0,-1L0,1","filled":false,"color":"#c2c2c2","strokeWidth":1.1,"size":90,"opacity":1,"clip":true},
     "encoding":{
      "x":{"field":"k","type":"quantitative","scale":{"domain":[-5.309,-2.285],"nice":false,"zero":false},"axis":{"orient":"bottom","values":[-5,-4,-3],"labelExpr":"datum.value == -5 ? '10⁵' : datum.value == -4 ? '10⁴' : '10³'","title":"Kᵨ [m² s¹  ]","titlePadding":11}},
      "y":{"field":"d","type":"quantitative","scale":{"domain":[0,350],"reverse":true,"nice":false,"zero":false},"axis":{"orient":"left","values":[0,50,100,150,200,250,300,350],"title":null,"labelPadding":11}}}},
    {"data":{"name":"kline"},"mark":{"type":"line","color":"#000","strokeWidth":4,"clip":true},
     "encoding":{
      "x":{"field":"k","type":"quantitative","axis":{"orient":"top","values":[-5,-4,-3],"labels":false,"title":null}},
      "y":{"field":"d","type":"quantitative","axis":{"orient":"right","values":[0,50,100,150,200,250,300,350],"labels":false,"title":null}},
      "order":{"field":"d","type":"quantitative"}}},
    {"data":{"name":"kline"},"mark":{"type":"point","opacity":0},
     "encoding":{"x":{"field":"k","type":"quantitative","axis":{"orient":"bottom","values":[-5.301,-5.222,-5.155,-5.097,-5.046,-4.699,-4.523,-4.398,-4.301,-4.222,-4.155,-4.097,-4.046,-3.699,-3.523,-3.398,-3.301,-3.222,-3.155,-3.097,-3.046,-2.699,-2.523,-2.398,-2.301],"labels":false,"title":null,"tickSize":-3}},"y":{"field":"d","type":"quantitative","axis":null}}},
    {"data":{"name":"kline"},"mark":{"type":"point","opacity":0},
     "encoding":{"x":{"field":"k","type":"quantitative","axis":{"orient":"top","values":[-5.301,-5.222,-5.155,-5.097,-5.046,-4.699,-4.523,-4.398,-4.301,-4.222,-4.155,-4.097,-4.046,-3.699,-3.523,-3.398,-3.301,-3.222,-3.155,-3.097,-3.046,-2.699,-2.523,-2.398,-2.301],"labels":false,"title":null,"tickSize":-3}},"y":{"field":"d","type":"quantitative","axis":null}}}
   ]}
],
"columns":2,
"spacing":{"row":21,"column":83}
}
